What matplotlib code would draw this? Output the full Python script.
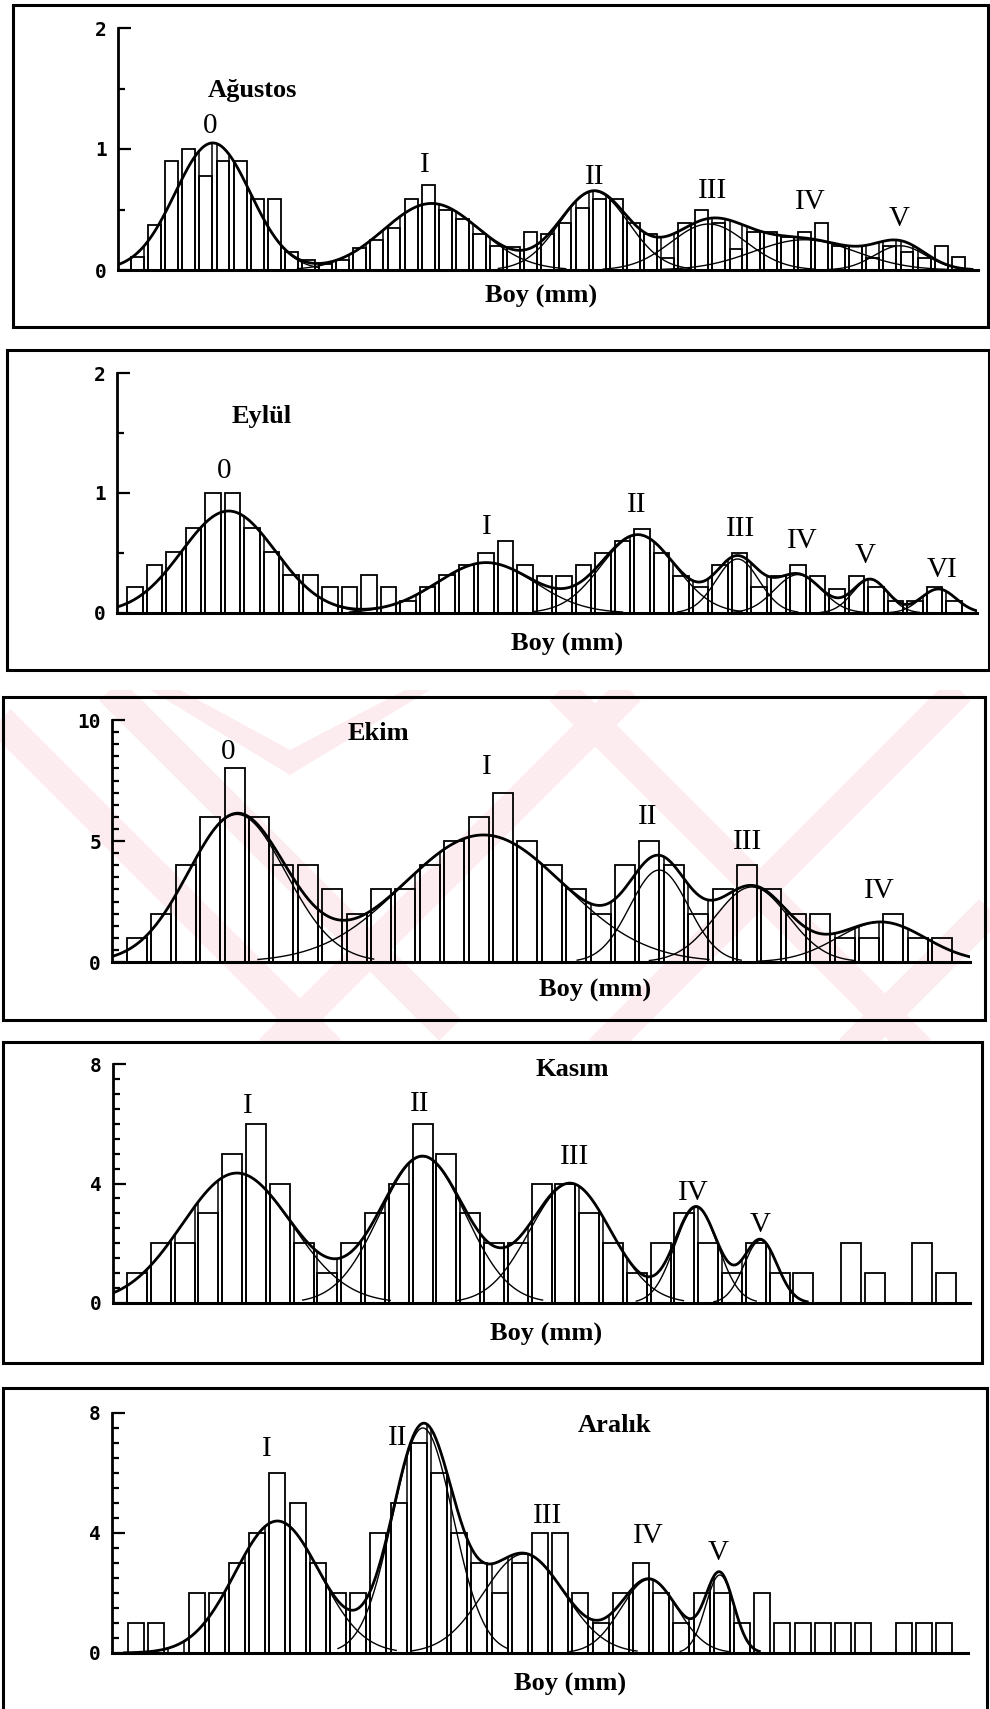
import numpy as np
import matplotlib.pyplot as plt
from matplotlib.patches import Rectangle, Polygon

W, H = 990, 1709

# ---- data ---------------------------------------------------------------
months = ['Ağustos', 'Eylül', 'Ekim', 'Kasım', 'Aralık']

# frequency of each length class, left to right
agustos_counts = [0.11, 0.37, 0.90, 1.00, 0.78, 0.90, 0.90, 0.59, 0.59, 0.15,
                  0.08, 0.05, 0.08, 0.18, 0.25, 0.35, 0.59, 0.70, 0.50, 0.42,
                  0.30, 0.20, 0.19, 0.31, 0.30, 0.39, 0.51, 0.59, 0.59, 0.39,
                  0.30, 0.10, 0.39, 0.50, 0.39, 0.17, 0.31, 0.31, 0.27, 0.31,
                  0.39, 0.20, 0.20, 0.10, 0.20, 0.15, 0.10, 0.20, 0.11]
eylul_counts = [0.22, 0.40, 0.51, 0.71, 1.00, 1.00, 0.71, 0.51, 0.32, 0.32,
                0.22, 0.22, 0.32, 0.22, 0.10, 0.22, 0.32, 0.40, 0.50, 0.60,
                0.40, 0.31, 0.31, 0.40, 0.50, 0.60, 0.70, 0.50, 0.31, 0.22,
                0.40, 0.50, 0.22, 0.31, 0.40, 0.31, 0.20, 0.31, 0.22, 0.10,
                0.10, 0.22, 0.10]
ekim_counts = [1, 2, 4, 6, 8, 6, 4, 4, 3, 2, 3, 3, 4, 5, 6, 7, 5, 4, 3, 2,
               4, 5, 4, 2, 3, 4, 3, 2, 2, 1, 1, 2, 1, 1]
kasim_counts = [1, 2, 2, 3, 5, 6, 4, 2, 1, 2, 3, 4, 6, 5, 3, 2, 2, 4, 4, 3,
                2, 1, 2, 3, 2, 1, 2, 1, 1, 0, 2, 1, 0, 2, 1]
aralik_counts = [1, 1, 0, 2, 2, 3, 4, 6, 5, 3, 2, 2, 4, 5, 7, 6, 4, 3, 2, 3,
                 4, 4, 2, 1, 2, 3, 2, 1, 2, 2, 1, 2, 1, 1, 1, 1, 1, 0, 1, 1, 1]

# normal components (position in class units, spread, height)
agustos_mean = [4.4, 17.2, 26.7, 33.4, 39.0, 44.6]
agustos_sd = [2.2, 2.8, 2.0, 2.2, 3.0, 1.5]
agustos_peak = [1.05, 0.55, 0.65, 0.38, 0.25, 0.20]
agustos_cohorts = ['0', 'I', 'II', 'III', 'IV', 'V']

eylul_mean = [4.8, 18.0, 25.8, 30.9, 34.0, 37.7, 41.2]
eylul_sd = [2.4, 2.5, 1.9, 1.1, 1.2, 0.9, 0.9]
eylul_peak = [0.85, 0.42, 0.65, 0.45, 0.32, 0.28, 0.20]
eylul_cohorts = ['0', 'I', 'II', 'III', 'IV', 'V', 'VI']

ekim_mean = [4.1, 14.2, 21.4, 25.2, 30.5]
ekim_sd = [2.0, 3.3, 1.2, 1.5, 1.8]
ekim_peak = [6.1, 5.25, 3.8, 3.1, 1.65]
ekim_cohorts = ['0', 'I', 'II', 'III', 'IV']

kasim_mean = [4.2, 12.0, 18.2, 23.5, 26.2]
kasim_sd = [2.3, 1.8, 1.7, 0.9, 0.7]
kasim_peak = [4.35, 4.9, 4.0, 3.2, 2.1]
kasim_cohorts = ['I', 'II', 'III', 'IV', 'V']

aralik_mean = [7.0, 14.2, 19.2, 25.4, 28.9]
aralik_sd = [2.1, 1.5, 2.0, 1.4, 0.7]
aralik_peak = [4.4, 7.5, 3.3, 2.45, 2.6]
aralik_cohorts = ['I', 'II', 'III', 'IV', 'V']

yticks_small = [0, 1, 2]
yticks_ekim = [0, 5, 10]
yticks_big = [0, 4, 8]

# ---- layout (pixel geometry of the scanned page) -------------------------
# frame l,t,r,b ; axis left,right,base,top ; first class centre, pitch, bar width
layout = [
    dict(frame=(13, 5, 988, 327), ax=(118, 978, 270, 28), c0=137.5, pitch=17.1, bw=0.75,
         title=(252, 90), xlabel=(541, 296),
         coh=[(210, 126), (425, 165), (595, 177), (713, 191), (810, 202), (899, 219)]),
    dict(frame=(7, 350, 989, 670), ax=(117, 977, 613, 373), c0=135, pitch=19.5, bw=0.77,
         title=(262, 417), xlabel=(567, 644),
         coh=[(224, 471), (487, 527), (637, 505), (741, 529), (802, 541), (865, 556), (942, 570)]),
    dict(frame=(3, 697, 985, 1020), ax=(112, 970, 962, 720), c0=137, pitch=24.4, bw=0.82,
         title=(378, 734), xlabel=(595, 990),
         coh=[(228, 752), (487, 767), (648, 817), (748, 842), (879, 891)]),
    dict(frame=(3, 1042, 982, 1363), ax=(113, 970, 1303, 1064), c0=137, pitch=23.8, bw=0.84,
         title=(572, 1070), xlabel=(546, 1334),
         coh=[(248, 1106), (420, 1104), (575, 1157), (693, 1193), (760, 1225)]),
    dict(frame=(3, 1388, 987, 1712), ax=(112, 968, 1653, 1413), c0=136, pitch=20.2, bw=0.80,
         title=(615, 1426), xlabel=(570, 1684),
         coh=[(267, 1449), (398, 1438), (548, 1516), (648, 1536), (718, 1553)]),
]

panels = [
    (agustos_counts, agustos_mean, agustos_sd, agustos_peak, agustos_cohorts, yticks_small),
    (eylul_counts, eylul_mean, eylul_sd, eylul_peak, eylul_cohorts, yticks_small),
    (ekim_counts, ekim_mean, ekim_sd, ekim_peak, ekim_cohorts, yticks_ekim),
    (kasim_counts, kasim_mean, kasim_sd, kasim_peak, kasim_cohorts, yticks_big),
    (aralik_counts, aralik_mean, aralik_sd, aralik_peak, aralik_cohorts, yticks_big),
]

SERIF = ['Liberation Serif', 'DejaVu Serif']
MONO = ['DejaVu Sans Mono']


def fx(x):
    return x / W


def fy(y):
    return 1 - y / H


def gauss(x, m, s, p):
    return p * np.exp(-(x - m) ** 2 / (2 * s ** 2))


fig = plt.figure(figsize=(W / 100, H / 100), dpi=100)

# faint pink watermark behind the Ekim panel
bg = fig.add_axes([0, 0, 1, 1], zorder=-5)
bg.set_xlim(0, W)
bg.set_ylim(H, 0)
bg.axis('off')
clip = Rectangle((0, 690), W, 352, transform=bg.transData)
pink = '#fdecef'
bands = [((0, 720), (330, 1050)), ((110, 690), (450, 1030)), ((270, 1050), (630, 690)),
         ((600, 1050), (960, 690)), ((560, 690), (920, 1050)), ((850, 1050), (990, 910))]
for (x1, y1), (x2, y2) in bands:
    ln, = bg.plot([x1, x2], [y1, y2], color=pink, lw=22, solid_capstyle='butt')
    ln.set_clip_path(clip)
chev = Polygon([(150, 690), (290, 775), (430, 690), (405, 690), (290, 750), (180, 690)],
               closed=True, color=pink, lw=0)
bg.add_patch(chev)

for k, ((counts, means, sds, peaks, cohorts, yt), lay) in enumerate(zip(panels, layout)):
    l, t, r, b = lay['frame']
    fig.patches.append(Rectangle((fx(l), fy(b)), (r - l) / W, (b - t) / H,
                                 transform=fig.transFigure, fill=False,
                                 lw=2.2, ec='black'))

    al, ar, base, top = lay['ax']
    ax = fig.add_axes([fx(al), fy(base), (ar - al) / W, (base - top) / H])
    ax.patch.set_visible(False)
    x0 = (al - lay['c0']) / lay['pitch']
    x1 = (ar - lay['c0']) / lay['pitch']
    ax.set_xlim(x0, x1)
    ax.set_ylim(0, yt[-1])

    idx = np.arange(len(counts))
    ax.bar(idx, counts, width=lay['bw'], facecolor='none', edgecolor='black',
           lw=1.3, zorder=2)

    # curves
    lo = max(x0, min(m - 3.6 * s for m, s in zip(means, sds)))
    hi = min(x1, max(m + 2.8 * s for m, s in zip(means, sds)))
    xs = np.linspace(lo, hi, 600)
    total = sum(gauss(xs, m, s, p) for m, s, p in zip(means, sds, peaks))
    for m, s, p in zip(means, sds, peaks):
        xc = np.linspace(max(x0, m - 2.8 * s), min(x1, m + 2.8 * s), 200)
        ax.plot(xc, gauss(xc, m, s, p), color='black', lw=1.0, zorder=3)
    ax.plot(xs, total, color='black', lw=2.0, zorder=4)

    # vertical shading lines under the fitted curve at class edges
    edges = np.concatenate([idx - lay['bw'] / 2, idx + lay['bw'] / 2])
    edges = edges[(edges > lo) & (edges < hi)]
    tot_e = sum(gauss(edges, m, s, p) for m, s, p in zip(means, sds, peaks))
    keep = tot_e > 0.02 * yt[-1]
    ax.vlines(edges[keep], 0, tot_e[keep], color='black', lw=1.1, zorder=3)

    for side in ['top', 'right']:
        ax.spines[side].set_visible(False)
    ax.spines['left'].set_linewidth(2.0)
    ax.spines['bottom'].set_linewidth(2.2)
    ax.set_xticks([])
    ax.set_yticks(yt)
    ax.set_yticklabels([str(v) for v in yt], family=MONO, fontweight='bold', fontsize=14)
    ax.set_yticks(np.arange(0, yt[-1] + 0.01, 0.5), minor=True)
    ax.tick_params(axis='y', which='major', direction='in', length=9, width=1.6, pad=8)
    ax.tick_params(axis='y', which='minor', direction='in', length=5, width=1.6)

    # texts
    fig.text(fx(lay['title'][0]), fy(lay['title'][1]), months[k],
             ha='center', va='center', fontsize=19, family=SERIF, fontweight='bold')
    fig.text(fx(lay['xlabel'][0]), fy(lay['xlabel'][1]), 'Boy (mm)',
             ha='center', va='center', fontsize=19, family=SERIF, fontweight='bold')
    for name, (cx, cy) in zip(cohorts, lay['coh']):
        fig.text(fx(cx), fy(cy), name, ha='center', va='center', fontsize=21,
                 family=SERIF)

fig.savefig('out.png', dpi=100, facecolor='white')
